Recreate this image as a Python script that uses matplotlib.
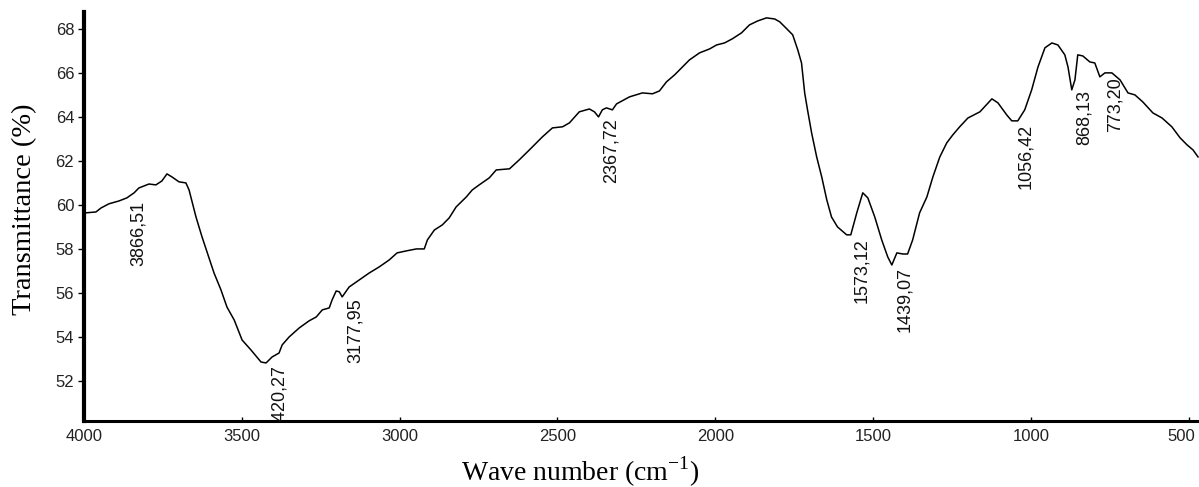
import numpy as np
import matplotlib
matplotlib.use('Agg')
import matplotlib.pyplot as plt
import matplotlib.transforms as mtransforms


# FTIR spectrum
wavenumber = [4000, 3994, 3962, 3946, 3921, 3889, 3864, 3841, 3826, 3794,
              3772, 3753, 3737, 3721, 3699, 3677, 3667, 3645, 3626, 3610,
              3588, 3566, 3547, 3524, 3499, 3471, 3439, 3423, 3404, 3382,
              3372, 3350, 3318, 3287, 3264, 3245, 3223, 3214, 3201, 3191,
              3182, 3160, 3128, 3096, 3065, 3033, 3008, 2979, 2947, 2922,
              2912, 2890, 2865, 2843, 2821, 2789, 2770, 2748, 2716, 2694,
              2652, 2621, 2589, 2548, 2516, 2484, 2462, 2431, 2399, 2383,
              2370, 2358, 2345, 2326, 2313, 2272, 2231, 2199, 2177, 2155,
              2129, 2104, 2082, 2050, 2018, 1996, 1971, 1946, 1917, 1892,
              1866, 1838, 1812, 1796, 1777, 1755, 1739, 1727, 1717, 1708,
              1695, 1679, 1663, 1647, 1632, 1613, 1584, 1571, 1552, 1533,
              1517, 1495, 1473, 1454, 1441, 1425, 1406, 1391, 1375, 1353,
              1330, 1311, 1289, 1267, 1248, 1226, 1200, 1162, 1124, 1105,
              1077, 1061, 1042, 1020, 998, 978, 956, 934, 915, 893,
              883, 871, 861, 852, 836, 814, 798, 782, 766, 744,
              718, 693, 671, 646, 614, 585, 554, 528, 506, 487, 471]
transmittance = [59.64, 59.64, 59.68, 59.86, 60.05, 60.18, 60.32, 60.55, 60.77, 60.95,
                 60.91, 61.09, 61.41, 61.27, 61.05, 61.00, 60.68, 59.45, 58.55, 57.86,
                 56.91, 56.14, 55.36, 54.77, 53.86, 53.41, 52.86, 52.82, 53.09, 53.27,
                 53.64, 54.00, 54.41, 54.73, 54.91, 55.23, 55.32, 55.68, 56.09, 56.05,
                 55.82, 56.27, 56.59, 56.91, 57.18, 57.50, 57.82, 57.91, 58.00, 58.00,
                 58.41, 58.86, 59.09, 59.41, 59.91, 60.36, 60.68, 60.91, 61.23, 61.59,
                 61.64, 62.05, 62.50, 63.09, 63.50, 63.55, 63.73, 64.23, 64.36, 64.23,
                 64.00, 64.32, 64.41, 64.32, 64.59, 64.91, 65.09, 65.05, 65.18, 65.59,
                 65.91, 66.27, 66.59, 66.91, 67.09, 67.27, 67.36, 67.55, 67.82, 68.18,
                 68.36, 68.50, 68.45, 68.32, 68.05, 67.73, 67.05, 66.45, 65.09, 64.32,
                 63.27, 62.18, 61.27, 60.23, 59.45, 59.00, 58.64, 58.64, 59.64, 60.55,
                 60.32, 59.45, 58.41, 57.64, 57.27, 57.82, 57.77, 57.77, 58.41, 59.64,
                 60.36, 61.27, 62.18, 62.82, 63.18, 63.55, 63.95, 64.23, 64.82, 64.64,
                 64.09, 63.82, 63.82, 64.32, 65.23, 66.27, 67.14, 67.36, 67.27, 66.82,
                 66.27, 65.23, 65.68, 66.82, 66.77, 66.50, 66.45, 65.82, 66.00, 66.00,
                 65.68, 65.09, 65.00, 64.68, 64.18, 63.95, 63.55, 63.05, 62.73, 62.50, 62.18]

peaks = [3866.51, 3420.27, 3177.95, 2367.72, 1573.12, 1439.07, 1056.42, 868.13, 773.20]
peak_labels = ['3866,51', '3420,27', '3177,95', '2367,72', '1573,12', '1439,07',
               '1056,42', '868,13', '773,20']

x_ticks = [4000, 3500, 3000, 2500, 2000, 1500, 1000, 500]
y_ticks = [52, 54, 56, 58, 60, 62, 64, 66, 68]


def main():
    fig = plt.figure(figsize=(11.99, 4.87), dpi=100)
    ax = fig.add_axes([0.070, 0.1355, 0.930, 0.840])

    ax.plot(wavenumber, transmittance, color='black', linewidth=1.1)

    ax.set_xlim(4000, 468)
    ax.set_ylim(50.18, 68.77)

    # peak labels, rotated and placed just below the curve
    w_sorted = wavenumber[::-1]
    t_sorted = transmittance[::-1]
    trans = mtransforms.offset_copy(ax.transData, fig=fig, x=12, y=-3, units='dots')
    for p, lab in zip(peaks, peak_labels):
        yv = np.interp(p, w_sorted, t_sorted)
        ax.text(p, yv, lab, rotation=90, ha='center', va='top', transform=trans,
                fontsize=13, family='Liberation Sans', color='#111111', clip_on=True)

    for side in ['top', 'right']:
        ax.spines[side].set_visible(False)
    ax.spines['left'].set_linewidth(3.0)
    ax.spines['bottom'].set_linewidth(2.2)

    ax.set_xticks(x_ticks)
    ax.set_yticks(y_ticks)
    ax.tick_params(axis='y', direction='out', length=4, width=1, pad=3)
    ax.tick_params(axis='x', direction='in', length=3, width=1, pad=6)
    for lbl in ax.get_xticklabels() + ax.get_yticklabels():
        lbl.set_family('Liberation Sans')
        lbl.set_fontsize(12)
        lbl.set_color('#222222')
    # last label sits a bit left so it is not cut by the edge
    last = ax.get_xticklabels()[-1]
    last.set_transform(last.get_transform() +
                       mtransforms.ScaledTranslation(-8 / 100, 0, fig.dpi_scale_trans))

    ax.set_xlabel(r'Wave number (cm$^{\mathregular{-1}}$)', family='Liberation Serif',
                  fontsize=20, va='center')
    ax.set_ylabel('Transmittance (%)', family='Liberation Serif', fontsize=20.5)
    ax.xaxis.set_label_coords((580 - 84) / (1199 - 84), -0.125)
    ax.yaxis.set_label_coords(-0.042, 0.518)

    plt.savefig('out.png', dpi=100)
    plt.close()


if __name__ == '__main__':
    main()
